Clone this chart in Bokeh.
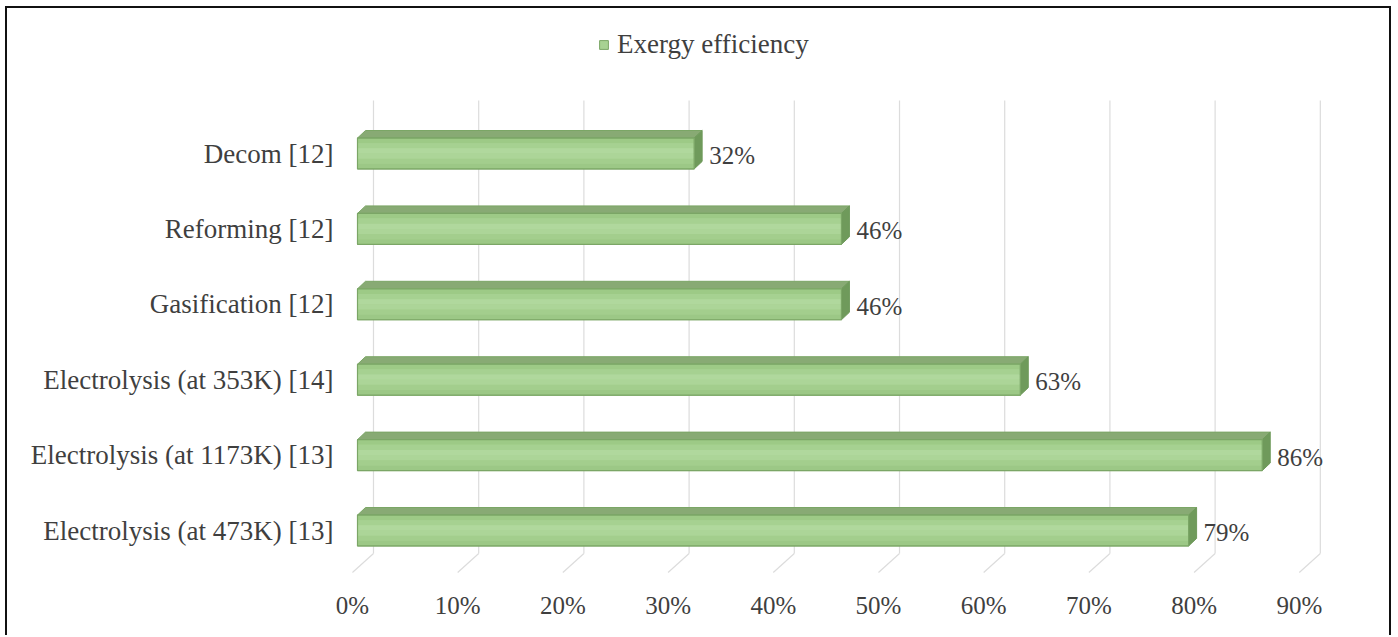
from bokeh.plotting import figure
from bokeh.models import Range1d, LinearAxis, FixedTicker, Legend, LegendItem, ColumnDataSource
from bokeh.core.properties import value
from bokeh.embed import file_html
from bokeh.resources import INLINE

# ---- data -------------------------------------------------------------
categories = [
    "Electrolysis (at 473K) [13]",
    "Electrolysis (at 1173K) [13]",
    "Electrolysis (at 353K) [14]",
    "Gasification [12]",
    "Reforming [12]",
    "Decom [12]",
]
efficiency = [79, 86, 63, 46, 46, 32]          # exergy efficiency, %
tick_values = [0, 10, 20, 30, 40, 50, 60, 70, 80, 90]
tick_labels = ["0%", "10%", "20%", "30%", "40%", "50%", "60%", "70%", "80%", "90%"]
series_name = "Exergy efficiency"

# ---- style / pseudo-3D geometry ----------------------------------------
FONT = "Liberation Serif"
TEXT_COLOR = "#3f3f3f"
LABEL_SIZE = "27px"
NUM_SIZE = "25px"
BAR_H = 0.41          # front face height (category units)
DEPTH_X = 0.76        # bar depth, x-shift (percent units)
DEPTH_Y = 0.1         # bar depth, y-shift (category units)
WALL_DX = 1.52        # back wall offset behind the bars (percent units)
WALL_BOTTOM, WALL_TOP = -0.305, 5.703
FLOOR_DX, FLOOR_FRONT = -2.0, -0.557
BAND_COLORS = ["#9dca86", "#a6d191", "#b0d89d", "#acd598", "#a3ce8d", "#9cc886"]
TOP_COLOR = "#88aa74"
END_COLOR = "#6f9a5b"
EDGE_COLOR = "#7ba666"
GRID_COLOR = "#dcdcdc"

ypos = list(range(len(categories)))

p = figure(
    width=1386, height=629,
    x_range=Range1d(-1.616, 97.24), y_range=Range1d(-0.663, 6.764),
    x_axis_location=None, y_axis_location="left",
    output_backend="svg", toolbar_location=None,
    min_border_left=333, min_border_right=13, min_border_top=12, min_border_bottom=57,
    outline_line_color=None, background_fill_color="white", border_fill_color="white",
)
p.styles = {
    "margin-left": "5px", "margin-top": "6px",
    "border-left": "2px solid #111", "border-top": "2px solid #111",
    "border-right": "2px solid #111",
}
p.grid.visible = False

# category axis
ya = p.yaxis[0]
ya.ticker = FixedTicker(ticks=ypos)
ya.major_label_overrides = {i: c for i, c in zip(ypos, categories)}
ya.axis_line_color = None
ya.major_tick_line_color = None
ya.minor_tick_line_color = None
ya.major_label_standoff = 1
ya.major_label_text_font = FONT
ya.major_label_text_font_size = LABEL_SIZE
ya.major_label_text_color = TEXT_COLOR

# percent axis, placed at the front edge of the floor
p.extra_x_ranges = {"floor": Range1d(-1.616 + 0.475, 97.24 + 0.475)}
xa = LinearAxis(x_range_name="floor", ticker=FixedTicker(ticks=tick_values))
xa.major_label_overrides = {t: l for t, l in zip(tick_values, tick_labels)}
xa.axis_line_color = None
xa.major_tick_line_color = None
xa.minor_tick_line_color = None
xa.major_label_standoff = 5
xa.major_label_text_font = FONT
xa.major_label_text_font_size = NUM_SIZE
xa.major_label_text_color = TEXT_COLOR
p.add_layout(xa, "below")

# back wall gridlines and their floor continuation
wall_x = [t + WALL_DX for t in tick_values]
p.segment(x0=wall_x, y0=WALL_BOTTOM, x1=wall_x, y1=WALL_TOP, line_color=GRID_COLOR, line_width=1.2)
p.segment(x0=wall_x, y0=WALL_BOTTOM, x1=[x + FLOOR_DX for x in wall_x], y1=FLOOR_FRONT,
          line_color=GRID_COLOR, line_width=1.2)

# bars: top face, end face, banded front face
top_xs, top_ys, end_xs, end_ys = [], [], [], []
for y, v in zip(ypos, efficiency):
    yt, yb = y + BAR_H / 2, y - BAR_H / 2
    top_xs.append([0, v, v + DEPTH_X, DEPTH_X])
    top_ys.append([yt, yt, yt + DEPTH_Y, yt + DEPTH_Y])
    end_xs.append([v, v + DEPTH_X, v + DEPTH_X, v])
    end_ys.append([yb, yb + DEPTH_Y, yt + DEPTH_Y, yt])
p.patches(top_xs, top_ys, fill_color=TOP_COLOR, line_color=EDGE_COLOR, line_width=1)
p.patches(end_xs, end_ys, fill_color=END_COLOR, line_color=END_COLOR, line_width=1)

src = ColumnDataSource(dict(y=ypos, v=efficiency, lab=[f"{v}%" for v in efficiency]))
base = p.hbar(y="y", height=BAR_H, left=0, right="v", source=src,
              fill_color="#a8d293", line_color=EDGE_COLOR, line_width=1)
nb = len(BAND_COLORS)
bh = BAR_H / nb
for i, c in enumerate(BAND_COLORS):
    off = BAR_H / 2 - bh * (i + 0.5)
    p.hbar(y=[y + off for y in ypos], height=bh, left=0, right=efficiency,
           fill_color=c, line_color=None)
p.hbar(y="y", height=BAR_H, left=0, right="v", source=src,
       fill_color=None, line_color=EDGE_COLOR, line_width=1.2)

# value labels
p.text(x="v", y="y", text="lab", source=src, x_offset=15, y_offset=2,
       text_baseline="middle", text_align="left",
       text_font=value(FONT), text_font_size=NUM_SIZE, text_color=TEXT_COLOR)

legend = Legend(
    items=[LegendItem(label=series_name, renderers=[base])],
    location=(258, 520), orientation="horizontal",
    glyph_width=11, glyph_height=11, label_standoff=8, padding=0, margin=0,
    border_line_color=None, background_fill_alpha=0,
    label_text_font=FONT, label_text_font_size=LABEL_SIZE, label_text_color=TEXT_COLOR,
)
p.add_layout(legend, "center")

open("out.html", "w").write(file_html(p, INLINE))
